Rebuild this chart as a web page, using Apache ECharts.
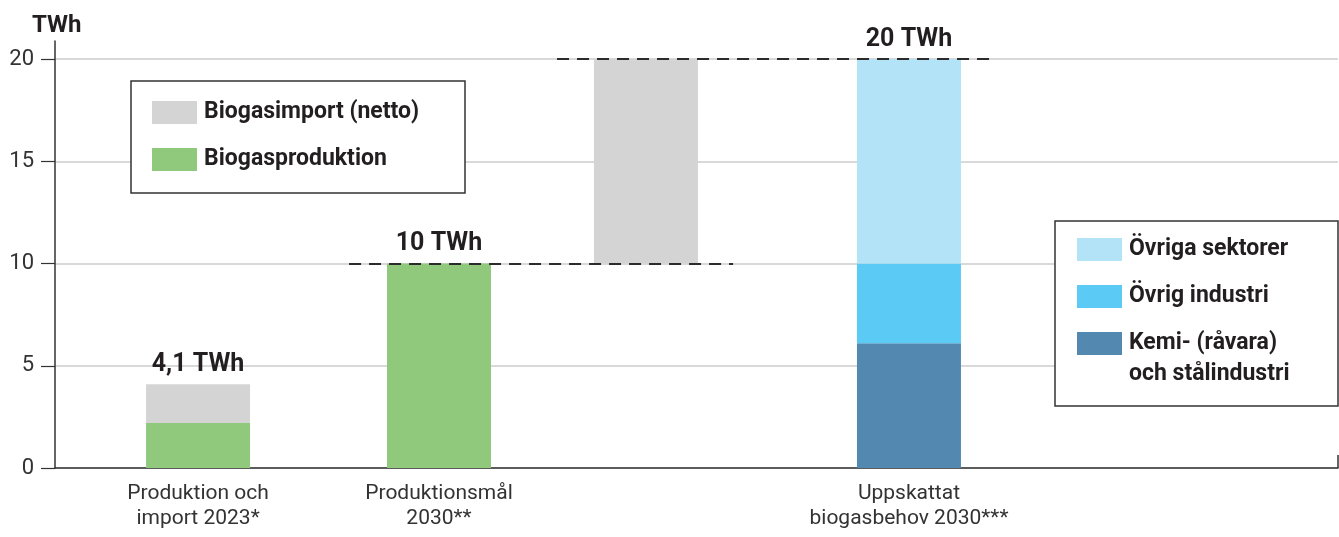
<!DOCTYPE html>
<html>
<head>
<meta charset="utf-8">
<script src="https://cdn.jsdelivr.net/npm/echarts@6/dist/echarts.min.js"></script>
<style>
  html, body { margin: 0; padding: 0; background: #fff; }
  #chart { width: 1339px; height: 537px; }
</style>
</head>
<body>
<div id="chart"></div>
<script>
// ---------- DATA ----------
const categories = ['Produktion och\nimport 2023*', 'Produktionsmål\n2030**', '', 'Uppskattat\nbiogasbehov 2030***'];
const produktion = [2.2, 10, null, null];          // Biogasproduktion (TWh)
const importNetto = [1.9, null, 10, null];         // Biogasimport (netto) (TWh)
const importBase = [null, null, 10, null];         // level the import gap starts from (TWh)
const kemiStal = [null, null, null, 6.1];          // Kemi- (råvara) och stålindustri
const ovrigIndustri = [null, null, null, 3.9];     // Övrig industri
const ovrigaSektorer = [null, null, null, 10];     // Övriga sektorer
const yTicks = [0, 5, 10, 15, 20];
const unit = 'TWh';

// ---------- LAYOUT (positions along a 0–100 horizontal scale) ----------
const barX = [11.15, 29.93, 46.06, 66.56];
const dashSpans = [
  { bar: 1, from: 22.92, to: 52.85 },
  { bar: 3, from: 39.13, to: 72.88 }
];

const FONT = 'Roboto, "Noto Sans", sans-serif';
const TXT = '#231f20';

const valueSeries = [produktion, importNetto, kemiStal, ovrigIndustri, ovrigaSektorer];
const totals = categories.map((_, i) => valueSeries.reduce((s, arr) => s + (arr[i] || 0), 0));
const fmt = v => {
  const r = Math.round(v * 10) / 10;
  return (Number.isInteger(r) ? String(r) : r.toFixed(1).replace('.', ',')) + ' ' + unit;
};
// value first so the stack is computed on the value dimension; encode maps it to y
const pairs = arr => arr.map((v, i) => [v == null ? '-' : v, barX[i]]);
const labelMap = new Map(barX.map((x, i) => [x, categories[i]]));

function barSeries(name, arr, color) {
  return {
    name, type: 'bar', stack: 'total', xAxisIndex: 0, yAxisIndex: 0,
    barWidth: 104, data: pairs(arr),
    encode: { x: 1, y: 0 },
    itemStyle: { color },
    emphasis: { disabled: true }
  };
}

const chart = echarts.init(document.getElementById('chart'), null, { renderer: 'canvas' });
chart.setOption({
  animation: false,
  backgroundColor: '#fff',
  textStyle: { fontFamily: FONT },
  title: {
    text: unit, left: 27, top: 9,
    textStyle: { fontFamily: FONT, fontSize: 24, fontWeight: 'bold', color: TXT }
  },
  grid: [
    { left: 55, right: 1, top: 59, bottom: 69 },
    { left: 55, right: 1, top: 41, bottom: 69 }
  ],
  xAxis: [
    {
      gridIndex: 0, type: 'value', min: 0, max: 100,
      axisLine: { show: true, onZero: true, lineStyle: { color: '#333', width: 1.5 } },
      splitLine: { show: false },
      axisTick: { show: true, inside: true, length: 13, customValues: [100], lineStyle: { color: '#333', width: 1.5 } },
      axisLabel: {
        show: true, customValues: barX.filter((x, i) => categories[i] !== ''),
        formatter: v => labelMap.get(v) || '',
        fontFamily: FONT, fontSize: 21, lineHeight: 25, color: '#333', margin: 13
      }
    },
    { gridIndex: 1, type: 'value', min: 0, max: 1, show: false }
  ],
  yAxis: [
    {
      gridIndex: 0, type: 'value', min: yTicks[0], max: yTicks[yTicks.length - 1], interval: yTicks[1] - yTicks[0],
      axisLine: { show: false },
      axisTick: { show: true, length: 14, lineStyle: { color: '#333', width: 1.2 } },
      axisLabel: { fontFamily: FONT, fontSize: 22, color: '#333', margin: 21 },
      splitLine: { show: true, lineStyle: { color: '#d9d9d9', width: 2 } }
    },
    {
      gridIndex: 1, type: 'value', min: 0, max: 1,
      axisLine: { show: true, lineStyle: { color: '#333', width: 1.5 } },
      axisTick: { show: false }, axisLabel: { show: false }, splitLine: { show: false }
    }
  ],
  legend: [
    {
      orient: 'vertical', left: 131, top: 81,
      padding: [20, 36, 22, 21],
      itemWidth: 45, itemHeight: 23, itemGap: 24, icon: 'rect',
      borderColor: '#333', borderWidth: 1.5, backgroundColor: '#fff',
      selectedMode: false,
      textStyle: { fontFamily: FONT, fontSize: 23, fontWeight: 'bold', color: TXT, lineHeight: 23, width: 225, padding: [0, 0, 0, 2] },
      data: ['Biogasimport (netto)', 'Biogasproduktion']
    },
    {
      orient: 'vertical', left: 1055, top: 221,
      padding: [-18, 39, 16, 22],
      itemWidth: 45, itemHeight: 23, itemGap: -11, icon: 'rect',
      borderColor: '#333', borderWidth: 1.5, backgroundColor: '#fff',
      selectedMode: false,
      textStyle: { fontFamily: FONT, fontSize: 23, fontWeight: 'bold', color: TXT, lineHeight: 23, width: 170, padding: [0, 0, 0, 2] },
      formatter: name => name === 'Kemi- (råvara) och stålindustri' ? '\nKemi- (råvara)\noch stålindustri' : name,
      data: [
        { name: 'Övriga sektorer', textStyle: { lineHeight: 93 } },
        { name: 'Övrig industri' },
        { name: 'Kemi- (råvara) och stålindustri', textStyle: { lineHeight: 31 } }
      ]
    }
  ],
  series: [
    barSeries('base', importBase, 'rgba(0,0,0,0)'),
    barSeries('Biogasproduktion', produktion, '#90c97c'),
    barSeries('Biogasimport (netto)', importNetto, '#d4d4d4'),
    barSeries('Kemi- (råvara) och stålindustri', kemiStal, '#5389b0'),
    barSeries('Övrig industri', ovrigIndustri, '#5bcbf6'),
    barSeries('Övriga sektorer', ovrigaSektorer, '#b3e3f7'),
    {
      name: 'totals', type: 'scatter', xAxisIndex: 0, yAxisIndex: 0,
      symbolSize: 0, silent: true, z: 5,
      itemStyle: { opacity: 1 },
      data: categories.map((c, i) => c === '' ? null : [barX[i], totals[i]]).filter(Boolean),
      label: {
        show: true, position: 'top', distance: 7, opacity: 1,
        formatter: p => fmt(p.value[1]),
        fontFamily: FONT, fontSize: 25, fontWeight: 'bold', color: TXT
      },
      markLine: {
        silent: true, symbol: ['none', 'none'], label: { show: false },
        lineStyle: { color: '#2b2b2b', width: 2, type: [12, 8], opacity: 1 },
        emphasis: { disabled: true },
        data: dashSpans.map(d => [
          { coord: [d.from, totals[d.bar]] },
          { coord: [d.to, totals[d.bar]] }
        ])
      }
    }
  ]
});
</script>
</body>
</html>
